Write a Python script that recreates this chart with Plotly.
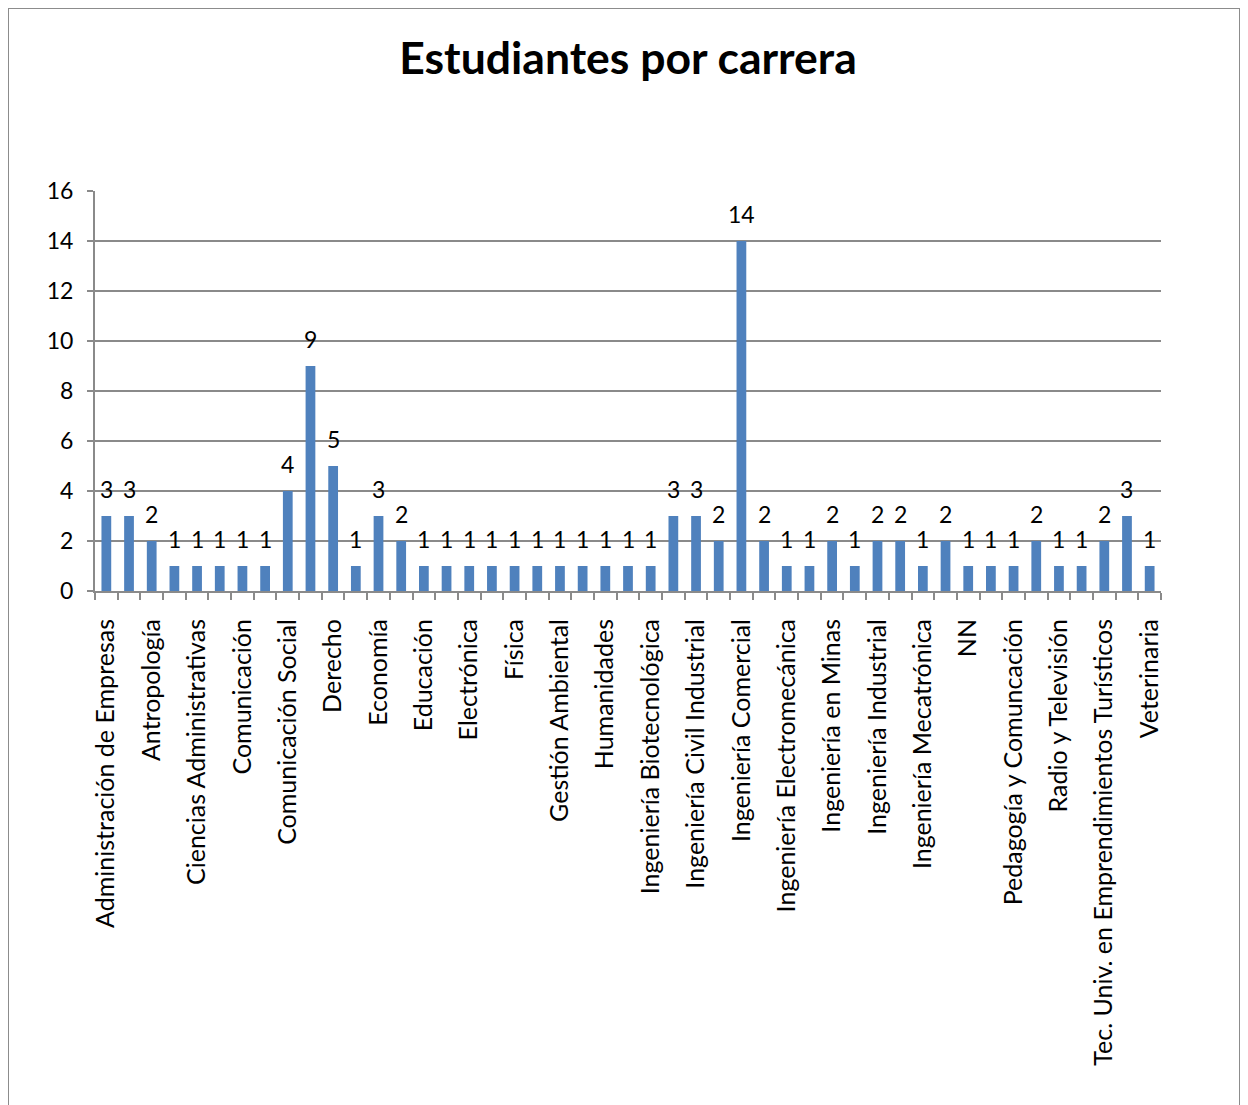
import plotly.graph_objects as go

carreras = [
    "Administración de Empresas", "Agronomía", "Antropología", "Arquitectura",
    "Ciencias Administrativas", "Ciencias Políticas", "Comunicación", "Comunicación Audiovisual",
    "Comunicación Social", "Contabilidad", "Derecho", "Diseño Gráfico",
    "Economía", "Ecoturismo", "Educación", "Educación Física",
    "Electrónica", "Enfermería", "Física", "Gastronomía",
    "Gestión Ambiental", "Historia", "Humanidades", "Ingeniería Ambiental",
    "Ingeniería Biotecnológica", "Ingeniería Civil", "Ingeniería Civil Industrial", "Ingeniería Civil Informática",
    "Ingeniería Comercial", "Ingeniería de Sistemas", "Ingeniería Electromecánica", "Ingeniería Electrónica",
    "Ingeniería en Minas", "Ingeniería Financiera", "Ingeniería Industrial", "Ingeniería Informática",
    "Ingeniería Mecatrónica", "Medicina", "NN", "Odontología",
    "Pedagogía y Comuncación", "Psicología", "Radio y Televisión", "Sociología",
    "Tec. Univ. en Emprendimientos Turísticos", "Turismo", "Veterinaria",
]
estudiantes = [
    3, 3, 2, 1, 1, 1, 1, 1, 4, 9, 5, 1, 3, 2, 1, 1, 1, 1, 1, 1, 1, 1, 1, 1,
    1, 3, 3, 2, 14, 2, 1, 1, 2, 1, 2, 2, 1, 2, 1, 1, 1, 2, 1, 1, 2, 3, 1,
]
y_ticks = [0, 2, 4, 6, 8, 10, 12, 14, 16]

n = len(carreras)
pos = list(range(n))
shown = pos[::2]

FONT = "Lato"
GRID = "#8a8a8a"

fig = go.Figure(go.Bar(
    x=pos, y=estudiantes,
    customdata=carreras,
    hovertemplate="%{customdata}: %{y}<extra></extra>",
    marker=dict(color="#4F81BD", line=dict(width=0)),
))

annotations = [
    dict(x=xi, y=yi, xref="x", yref="y", text=str(yi), showarrow=False,
         yanchor="bottom", xanchor="center", yshift=11,
         font=dict(family=FONT, size=23, color="black"))
    for xi, yi in zip(pos, estudiantes)
]

W, H = 1240, 1097
L, R, T, B = 87, 87, 183, 514
pw, ph = W - L - R, H - T - B

fig.update_layout(
    width=W, height=H,
    margin=dict(l=L, r=R, t=T, b=B, autoexpand=False),
    paper_bgcolor="white", plot_bgcolor="white",
    bargap=0.57,
    showlegend=False,
    title=dict(text="<b>Estudiantes por carrera</b>", x=0.5, xanchor="center",
               y=1 - 50 / H, yanchor="middle", yref="container",
               font=dict(family=FONT, size=44.5, color="black")),
    font=dict(family=FONT, color="black"),
    annotations=annotations,
    xaxis=dict(
        range=[-0.5, n - 0.5], tickmode="array", tickvals=shown,
        ticktext=[carreras[i] for i in shown], tickangle=-90,
        tickfont=dict(family=FONT, size=25, color="black"),
        ticklabelstandoff=16,
        ticks="", showgrid=False, zeroline=False,
        showline=True, linecolor=GRID, linewidth=2,
        minor=dict(tickmode="array", tickvals=[i - 0.5 for i in range(n + 1)],
                   ticks="outside", ticklen=7, tickcolor=GRID, tickwidth=2, showgrid=False),
    ),
    yaxis=dict(
        range=[0, 16], tickmode="array", tickvals=y_ticks,
        tickfont=dict(family=FONT, size=23, color="black"),
        ticklabelstandoff=9,
        ticks="outside", ticklen=6, tickcolor=GRID, tickwidth=2,
        showgrid=True, gridcolor=GRID, gridwidth=2,
        zeroline=False, showline=True, linecolor=GRID, linewidth=2,
    ),
    shapes=[dict(
        type="rect", xref="paper", yref="paper",
        x0=(0 - L) / pw, x1=(1232 - L) / pw,
        y0=-2.0, y1=(H - B - 0) / ph,
        line=dict(color="#8c8c8c", width=2), fillcolor="rgba(0,0,0,0)", layer="below",
    )],
)

fig.write_html("out.html")
